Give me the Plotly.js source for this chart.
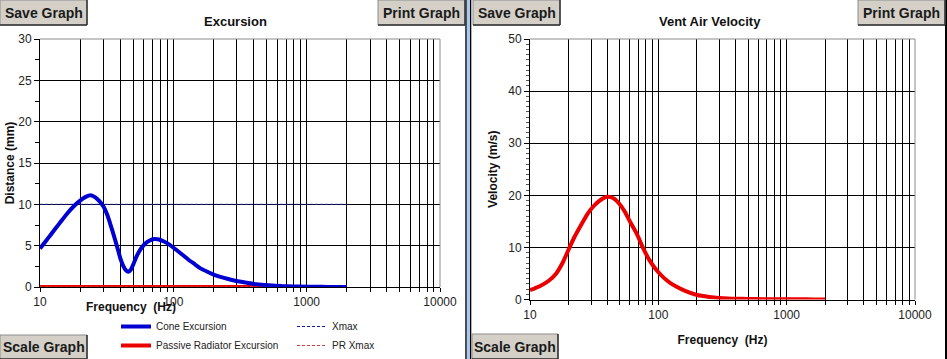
<!DOCTYPE html>
<html>
<head>
<meta charset="utf-8">
<script src="https://cdn.plot.ly/plotly-3.0.1.min.js"></script>
<style>
html,body{margin:0;padding:0;background:#fff;overflow:hidden;width:947px;height:359px;}
#chart{position:absolute;left:0;top:0;width:947px;height:359px;}
</style>
</head>
<body>
<div id="chart"></div>
<script>
// ---------- data ----------
const coneFreq = [10, 11, 12, 14, 16, 18, 20, 22, 24, 26, 28, 30, 32, 34, 36, 38, 40, 42, 44, 46, 48, 50, 53, 57, 61, 66, 72, 78, 85, 94, 105, 117, 130, 145, 160, 180, 205, 240, 275, 330, 420, 520, 650, 800, 1000, 1300, 1600, 2000];
const coneExcursion = [4.65, 5.5, 6.3, 7.7, 8.9, 9.8, 10.45, 10.9, 11.1, 10.85, 10.35, 9.7, 8.7, 7.4, 6.1, 4.8, 3.5, 2.6, 2.05, 1.85, 2.1, 2.7, 3.7, 4.6, 5.2, 5.6, 5.8, 5.75, 5.5, 5.1, 4.5, 3.9, 3.3, 2.75, 2.25, 1.85, 1.45, 1.1, 0.85, 0.6, 0.33, 0.2, 0.11, 0.07, 0.04, 0.02, 0.01, 0.01];

const prFreq = [10, 100, 1000, 2000];
const prExcursion = [0, 0, 0, 0];

const xmaxFreq = [10, 2000];
const xmaxValue = [10, 10];
const prXmaxFreq = [10, 2000];
const prXmaxValue = [0, 0];

const ventFreq = [10, 11, 12, 14, 16, 18, 20, 22, 25, 28, 31, 35, 40, 45, 50, 55, 60, 68, 75, 85, 97, 110, 125, 140, 160, 200, 250, 320, 400, 500, 650, 800, 1000, 1300, 1600, 2000];
const ventVelocity = [1.8, 2.2, 2.6, 3.6, 5.0, 7.1, 9.6, 11.8, 14.3, 16.4, 17.8, 19.0, 19.7, 19.4, 18.3, 16.8, 15.0, 12.6, 10.2, 7.6, 5.6, 4.2, 3.1, 2.4, 1.7, 0.86, 0.5, 0.25, 0.15, 0.1, 0.07, 0.05, 0.04, 0.03, 0.02, 0.02];

const decades = [10, 100, 1000, 10000];
const decadeLabels = ['10', '100', '1000', '10000'];
const excursionTicks = [0, 5, 10, 15, 20, 25, 30];
const velocityTicks = [0, 10, 20, 30, 40, 50];

// ---------- helpers ----------
const W = 947, H = 359;
const px = x => x / W;
const py = y => 1 - y / H;
const FONT = 'Liberation Sans, Arial, sans-serif';

// log grid positions (1..9 x each decade) with labels only on decades
const gridVals = [], gridText = [];
decades.forEach((d, i) => {
  const steps = (i === decades.length - 1) ? [1] : [1,2,3,4,5,6,7,8,9];
  steps.forEach(m => {
    gridVals.push(d * m);
    gridText.push(m === 1 ? decadeLabels[i] : '');
  });
});

const blue = '#0000d0';
const red = 'rgb(235,0,0)';

const traces = [
  {x: prFreq, y: prExcursion, xaxis:'x', yaxis:'y', mode:'lines', name:'Passive Radiator Excursion',
   line:{color:red, width:4}, legend:'legend', legendrank:2},
  {x: prXmaxFreq, y: prXmaxValue, xaxis:'x', yaxis:'y', mode:'lines', name:'PR Xmax',
   line:{color:'#d04040', width:1, dash:'3px,2px'}, legend:'legend2', legendrank:2},
  {x: xmaxFreq, y: xmaxValue, xaxis:'x', yaxis:'y', mode:'lines', name:'Xmax',
   line:{color:'#1a1aa0', width:1, dash:'3px,2px'}, legend:'legend2', legendrank:1},
  {x: coneFreq, y: coneExcursion, xaxis:'x', yaxis:'y', mode:'lines', name:'Cone Excursion',
   line:{color:blue, width:4, shape:'spline', smoothing:0.6}, legend:'legend', legendrank:1},
  {x: ventFreq, y: ventVelocity, xaxis:'x2', yaxis:'y2', mode:'lines', name:'Vent Air Velocity',
   line:{color:red, width:4, shape:'spline', smoothing:0.6}, showlegend:false}
];

const xCommon = {
  type:'log', range:[1,4], tickmode:'array', tickvals:gridVals, ticktext:gridText,
  showgrid:true, gridcolor:'#000', gridwidth:1, zeroline:false,
  showline:true, linecolor:'#000', linewidth:1,
  ticks:'outside', ticklen:4, tickcolor:'#000',
  tickfont:{family:FONT, size:12, color:'#222'}, fixedrange:true
};
const yCommon = {
  showgrid:true, gridcolor:'#000', gridwidth:1, zeroline:false,
  showline:true, linecolor:'#000', linewidth:1,
  ticks:'outside', ticklen:5, tickcolor:'#000', tickmode:'array',
  tickfont:{family:FONT, size:12, color:'#222'}, fixedrange:true
};

const buttons = [
  {x0:0, x1:87, y0:0, y1:25, text:'Save Graph'},
  {x0:378, x1:465, y0:0, y1:25, text:'Print Graph'},
  {x0:0, x1:87, y0:335, y1:359, text:'Scale Graph'},
  {x0:473, x1:560, y0:0, y1:25, text:'Save Graph'},
  {x0:858, x1:945, y0:0, y1:25, text:'Print Graph'},
  {x0:472, x1:558, y0:334, y1:359, text:'Scale Graph'}
];

const shapes = [];
const annotations = [];

// panel frames / divider
shapes.push({type:'rect', xref:'paper', yref:'paper', x0:px(465.3), x1:px(466.8), y0:0, y1:1, fillcolor:'#000', line:{width:0}, layer:'above'});
shapes.push({type:'rect', xref:'paper', yref:'paper', x0:px(466.8), x1:px(470), y0:0, y1:1, fillcolor:'#a9c8ee', line:{width:0}, layer:'above'});
shapes.push({type:'rect', xref:'paper', yref:'paper', x0:px(470), x1:px(471.3), y0:0, y1:1, fillcolor:'#000', line:{width:0}, layer:'above'});
shapes.push({type:'rect', xref:'paper', yref:'paper', x0:px(945), x1:1, y0:0, y1:1, fillcolor:'#000', line:{width:0}, layer:'above'});

// plot-area top and right borders (grey)
[['x','y'],['x2','y2']].forEach(([xa,ya]) => {
  shapes.push({type:'line', xref:xa+' domain', yref:ya+' domain', x0:0, x1:1, y0:1, y1:1, line:{color:'#8a8a8a', width:1}, layer:'above'});
  shapes.push({type:'line', xref:xa+' domain', yref:ya+' domain', x0:1, x1:1, y0:0, y1:1, line:{color:'#8a8a8a', width:1}, layer:'above'});
});

// buttons
buttons.forEach(b => {
  shapes.push({type:'rect', xref:'paper', yref:'paper', x0:px(b.x0), x1:px(b.x1), y0:py(b.y1), y1:py(b.y0),
    fillcolor:'#d4d0c8', line:{color:'#8c8c8c', width:1}, layer:'above'});
  shapes.push({type:'line', xref:'paper', yref:'paper', x0:px(b.x1), x1:px(b.x1), y0:py(b.y1), y1:py(b.y0),
    line:{color:'#303030', width:1.5}, layer:'above'});
  shapes.push({type:'line', xref:'paper', yref:'paper', x0:px(b.x0), x1:px(b.x1), y0:py(b.y1), y1:py(b.y1),
    line:{color:'#303030', width:1.5}, layer:'above'});
  annotations.push({xref:'paper', yref:'paper', x:px((b.x0+b.x1)/2), y:py((b.y0+b.y1)/2), xanchor:'center', yanchor:'middle',
    text:'<b>'+b.text+'</b>', showarrow:false, font:{family:FONT, size:14, color:'#1a1a1a'}});
});

// chart titles
annotations.push({xref:'paper', yref:'paper', x:px(235), y:py(22), xanchor:'center', yanchor:'middle', showarrow:false,
  text:'<b>Excursion</b>', font:{family:FONT, size:13, color:'#111'}});
annotations.push({xref:'paper', yref:'paper', x:px(710), y:py(22), xanchor:'center', yanchor:'middle', showarrow:false,
  text:'<b>Vent Air Velocity</b>', font:{family:FONT, size:13, color:'#111'}});
// left x-axis title (offset to the left in the original)
annotations.push({xref:'paper', yref:'paper', x:px(131), y:py(307), xanchor:'center', yanchor:'middle', showarrow:false,
  text:'<b>Frequency  (Hz)</b>', font:{family:FONT, size:12, color:'#111'}});

const layout = {
  width:W, height:H, margin:{l:0, r:0, t:0, b:0, pad:0, autoexpand:false}, autosize:false,
  paper_bgcolor:'#fff', plot_bgcolor:'#fff',
  font:{family:FONT, color:'#111'},
  xaxis: Object.assign({}, xCommon, {domain:[px(40), px(440)], anchor:'y'}),
  yaxis: Object.assign({}, yCommon, {domain:[py(287), py(39)], anchor:'x', range:[0,30],
    tickvals:excursionTicks,
    minor:{tickmode:'linear', tick0:0, dtick:2.5, ticks:'outside', ticklen:4, tickcolor:'#000', showgrid:false},
    title:{text:'<b>Distance (mm)</b>', font:{family:FONT, size:12, color:'#111'}, standoff:1}}),
  xaxis2: Object.assign({}, xCommon, {domain:[px(530), px(915)], anchor:'y2',
    title:{text:'<b>Frequency  (Hz)</b>', font:{family:FONT, size:12, color:'#111'}, standoff:14}}),
  yaxis2: Object.assign({}, yCommon, {domain:[py(299.5), py(39)], anchor:'x2', range:[0,50],
    tickvals:velocityTicks,
    minor:{tickmode:'linear', tick0:0, dtick:1, ticks:'outside', ticklen:3, tickcolor:'#555', showgrid:false},
    title:{text:'<b>Velocity (m/s)</b>', font:{family:FONT, size:12, color:'#111'}, standoff:8}}),
  legend:{x:px(116), y:py(312), xanchor:'left', yanchor:'top', orientation:'v', bgcolor:'rgba(0,0,0,0)',
    font:{family:FONT, size:10, color:'#222'}, itemwidth:30, tracegroupgap:0},
  legend2:{x:px(292), y:py(312), xanchor:'left', yanchor:'top', orientation:'v', bgcolor:'rgba(0,0,0,0)',
    font:{family:FONT, size:10, color:'#222'}, itemwidth:30, tracegroupgap:0},
  shapes:shapes,
  annotations:annotations,
  showlegend:true
};

Plotly.newPlot('chart', traces, layout, {staticPlot:true, displayModeBar:false});
</script>
</body>
</html>
